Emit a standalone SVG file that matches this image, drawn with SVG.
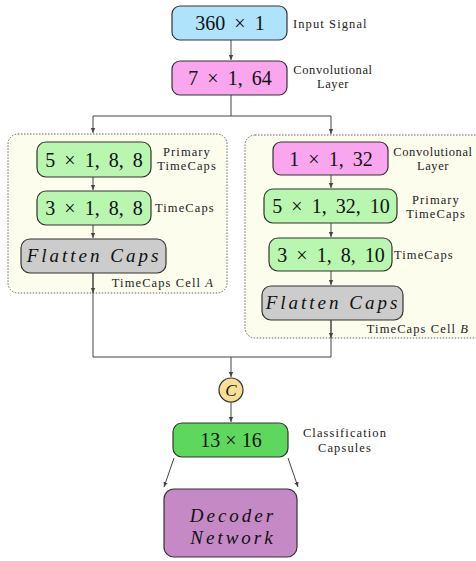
<svg xmlns="http://www.w3.org/2000/svg" width="476" height="561" viewBox="0 0 476 561">
<style>
.n{stroke:#333;stroke-width:1.2}
.t{font-family:"Liberation Serif","Times New Roman",serif;font-size:20px;word-spacing:4px;fill:#111;text-anchor:middle}
.it{font-family:"Liberation Serif","Times New Roman",serif;font-size:19px;font-style:italic;letter-spacing:3px;fill:#111;text-anchor:middle}
.s{font-family:"Liberation Serif","Times New Roman",serif;font-size:12.5px;letter-spacing:1.1px;fill:#222}
.sn{font-family:"Liberation Serif","Times New Roman",serif;font-size:12.5px;letter-spacing:0.6px;fill:#222}
.c{text-anchor:middle}
.e{fill:none;stroke:#444;stroke-width:1}
.cell{fill:#fdfdee;stroke:#666;stroke-width:1;stroke-dasharray:1.5 1.5}
</style>
<defs>
<marker id="a" markerWidth="6" markerHeight="6" refX="5" refY="3" orient="auto" markerUnits="userSpaceOnUse">
<path d="M0,0.8 L5,3 L0,5.2 z" fill="#444"/>
</marker>
</defs>
<g id="cellA"><rect class="cell" x="8" y="134" width="219" height="159" rx="10"/><text class="s" x="214" y="287" text-anchor="end">TimeCaps Cell <tspan font-style="italic">A</tspan></text></g>
<g id="cellB"><rect class="cell" x="245" y="135" width="240" height="203" rx="10"/><text class="s" x="469" y="333" text-anchor="end">TimeCaps Cell <tspan font-style="italic">B</tspan></text></g>
<g id="connectors">
<path class="e" d="M231,40 V60" marker-end="url(#a)"/>
<path class="e" d="M231,95 V116 M93,116 H331"/>
<path class="e" d="M93,116 V133" marker-end="url(#a)"/>
<path class="e" d="M331,116 V134" marker-end="url(#a)"/>
<path class="e" d="M93,177 V190" marker-end="url(#a)"/>
<path class="e" d="M93,225 V238" marker-end="url(#a)"/>
<path class="e" d="M331,175 V188" marker-end="url(#a)"/>
<path class="e" d="M331,223 V237" marker-end="url(#a)"/>
<path class="e" d="M331,271 V285" marker-end="url(#a)"/>
<path class="e" d="M93,273 V357 H331 V320"/>
<path class="e" d="M93,273 V293" marker-end="url(#a)"/>
<path class="e" d="M331,320 V338" marker-end="url(#a)"/>
<path class="e" d="M231,357 V377" marker-end="url(#a)"/>
<path class="e" d="M231,402 V422" marker-end="url(#a)"/>
<path class="e" d="M174,458 L164,487" marker-end="url(#a)"/>
<path class="e" d="M288,458 L298,487" marker-end="url(#a)"/>
</g>
<g id="input"><rect class="n" x="172" y="6" width="115" height="34" rx="8" fill="#aee3fb"/><text class="t" x="230" y="30">360 × 1</text><text class="s" x="293" y="28">Input Signal</text></g>
<g id="conv1"><rect class="n" x="172" y="61" width="115" height="34" rx="8" fill="#f9a6ef"/><text class="sn c" x="333" y="74">Convolutional</text><text class="t" x="230" y="85">7 × 1, 64</text><text class="sn c" x="333" y="88">Layer</text></g>
<g id="ptcA"><rect class="n" x="37" y="142" width="114" height="35" rx="9" fill="#b9f7b0"/><text class="t" x="94" y="167">5 × 1, 8, 8</text><text class="s c" x="187" y="156">Primary</text><text class="s c" x="187" y="170">TimeCaps</text></g>
<g id="tcA"><rect class="n" x="37" y="191" width="114" height="34" rx="9" fill="#b9f7b0"/><text class="t" x="94" y="215">3 × 1, 8, 8</text><text class="s" x="155" y="212">TimeCaps</text></g>
<g id="flatA"><rect class="n" x="21" y="239" width="145" height="34" rx="9" fill="#cccccc"/><text class="it" x="94" y="262">Flatten Caps</text></g>
<g id="convB"><rect class="n" x="273" y="142" width="115" height="33" rx="8" fill="#f9a6ef"/><text class="t" x="331" y="166">1 × 1, 32</text><text class="sn c" x="433" y="156">Convolutional</text><text class="sn c" x="433" y="170">Layer</text></g>
<g id="ptcB"><rect class="n" x="264" y="189" width="133" height="34" rx="9" fill="#b9f7b0"/><text class="t" x="331" y="213">5 × 1, 32, 10</text><text class="s c" x="436" y="204">Primary</text><text class="s c" x="436" y="218">TimeCaps</text></g>
<g id="tcB"><rect class="n" x="269" y="238" width="123" height="33" rx="9" fill="#b9f7b0"/><text class="t" x="331" y="262">3 × 1, 8, 10</text><text class="s" x="394" y="259">TimeCaps</text></g>
<g id="flatB"><rect class="n" x="262" y="286" width="141" height="34" rx="9" fill="#cccccc"/><text class="it" x="333" y="309">Flatten Caps</text></g>
<g id="concat"><circle class="n" cx="231" cy="390" r="12" fill="#f7df94"/><text x="231" y="396" font-family="'Liberation Serif',serif" font-style="italic" font-size="17" text-anchor="middle" fill="#111">C</text></g>
<g id="classcaps"><rect class="n" x="173" y="423" width="115" height="34" rx="9" fill="#5dd85d"/><text class="t" x="231" y="447" font-size="19" style="word-spacing:0">13 × 16</text><text class="s c" x="345" y="437">Classification</text><text class="s c" x="345" y="452">Capsules</text></g>
<g id="decoder"><rect class="n" x="164" y="489" width="133" height="68" rx="10" fill="#c58ac5"/><text class="it" x="233" y="522">Decoder</text><text class="it" x="233" y="544">Network</text></g>
</svg>
